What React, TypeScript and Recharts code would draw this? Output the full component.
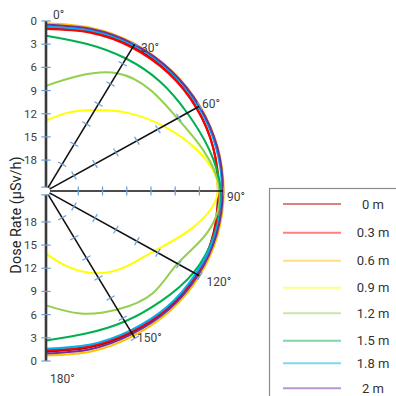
import { RadarChart, Radar, PolarAngleAxis, PolarRadiusAxis, Curve } from 'recharts';

// dose rate (µSv/h) around the source, one value per angle
const angles = [0, 15, 30, 45, 60, 75, 90, 105, 120, 135, 150, 165, 180];
const dose0m = [0.9, 0.65, 0.45, 0.4, 0.45, 0.55, 0.7, 0.55, 0.45, 0.6, 0.85, 1.05, 1.2];
const dose03m = [1.05, 0.8, 0.6, 0.5, 0.5, 0.55, 0.6, 0.5, 0.5, 0.7, 1.0, 1.2, 1.4];
const dose06m = [0.3, 0.15, 0.0, 0.0, 0.0, 0.0, 0.0, 0.0, 0.05, 0.15, 0.35, 0.5, 0.72];
const dose09m = [12.9, 11.5, 9.9, 7.7, 5.2, 2.4, 0.7, 3.3, 6.5, 8.1, 9.7, 11.9, 13.9];
const dose12m = [8.4, 6.6, 4.4, 3.6, 3.2, 1.8, 0.5, 1.3, 3.2, 3.3, 4.3, 5.6, 7.2];
const dose15m = [1.9, 2.3, 2.2, 2.0, 1.8, 1.1, 0.35, 0.4, 0.9, 1.85, 2.5, 2.9, 2.65];
const dose18m = [0.75, 0.5, 0.25, 0.2, 0.2, 0.2, 0.2, 0.3, 0.6, 0.8, 1.15, 1.4, 1.6];
const dose2m = [0.5, 0.3, 0.1, 0.05, 0.05, 0.05, 0.1, 0.15, 0.25, 0.4, 0.65, 0.8, 0.97];

const heights = ['0 m', '0.3 m', '0.6 m', '0.9 m', '1.2 m', '1.5 m', '1.8 m', '2 m'];
const colors = ['#C00000', '#FF0000', '#FFC000', '#FFFF00', '#92D050', '#00B050', '#00B0F0', '#7030A0'];
const doseByHeight = [dose0m, dose03m, dose06m, dose09m, dose12m, dose15m, dose18m, dose2m];

const doseTicks = [0, 3, 6, 9, 12, 15, 18];
const spokeAngles = [0, 30, 60, 90, 120, 150, 180];

const data = angles.map((angle, i) => {
  const row: Record<string, number> = { angle };
  heights.forEach((_, s) => {
    row[`h${s}`] = doseByHeight[s][i];
  });
  return row;
});

const SX = 1.045; // plot is a little wider than tall
const CX = 46;
const CY = 191;
const R = 170;
const DOSE_MAX = 21.5; // value at the centre
const FONT = 'Roboto, "Noto Sans", sans-serif';
const TICK_BLUE = '#6f9fd8';

const labelOffset: Record<number, [number, number]> = {
  0: [7, 5.5],
  30: [2, 14.7],
  60: [-5, 5.5],
  90: [-5, 9.5],
  120: [-0.5, 5.5],
  150: [-2, -3.2],
  180: [4, 13.5],
};

function smoothShape(props: any) {
  return (
    <Curve
      type="natural"
      points={props.points}
      stroke={props.stroke}
      strokeWidth={2}
      fill="none"
    />
  );
}

// little cross marks along a spoke, numbers only on the vertical axis
function spokeTick(polar: number, labelled: boolean) {
  return (props: any) => {
    const { x, y, payload } = props;
    const atCentre = payload.value === DOSE_MAX;
    if (atCentre && !labelled) return <g />;
    const rad = (polar * Math.PI) / 180;
    const px = Math.sin(rad) * 4.5;
    const py = Math.cos(rad) * 4.5;
    return (
      <g>
        <line x1={x - px} y1={y - py} x2={x + px} y2={y + py} stroke={TICK_BLUE} strokeWidth={1.2} />
        {labelled && !atCentre && (
          <g transform={`translate(${x},${y}) scale(${1 / SX},1)`}>
            <text x={-9} y={4} textAnchor="end" fontSize={11.5} fontFamily={FONT} fill="#404040">
              {payload.value}
            </text>
          </g>
        )}
      </g>
    );
  };
}

function angleTick(props: any) {
  const { x, y, payload } = props;
  const [dx, dy] = labelOffset[payload.value] ?? [0, 0];
  return (
    <g transform={`translate(${x},${y}) scale(${1 / SX},1)`}>
      <text x={dx} y={dy} textAnchor="start" fontSize={12} fontFamily={FONT} fill="#404040">
        {`${payload.value}°`}
      </text>
    </g>
  );
}

function DoseLegend() {
  const rows = [204, 232.7, 260.7, 287.7, 313.3, 340.7, 363.3, 388.3];
  return (
    <svg width={396} height={396} style={{ position: 'absolute', left: 0, top: 0 }}>
      <rect x={269.5} y={188.5} width={160} height={240} fill="#fff" stroke="#8c8c8c" strokeWidth={1.2} />
      {heights.map((h, i) => (
        <g key={h}>
          <line x1={283} x2={341} y1={rows[i]} y2={rows[i]} stroke={colors[i]} strokeWidth={2} strokeOpacity={0.5} />
          <text x={373} y={rows[i] + 4.5} textAnchor="middle" fontSize={13} fontFamily={FONT} fill="#333">
            {h}
          </text>
        </g>
      ))}
    </svg>
  );
}

export default function App() {
  const spokes = spokeAngles.map((a) => 90 - a);
  return (
    <div style={{ position: 'absolute', left: 0, top: 0, width: 396, height: 396, overflow: 'hidden', background: '#fff' }}>
      <div
        style={{
          position: 'absolute',
          left: 0,
          top: 0,
          transform: `scaleX(${SX})`,
          transformOrigin: `${CX}px ${CY}px`,
        }}
      >
        <RadarChart
          width={300}
          height={396}
          data={data}
          cx={CX}
          cy={CY}
          innerRadius={0}
          outerRadius={R}
          startAngle={90}
          endAngle={-90}
          margin={{ top: 0, right: 0, bottom: 0, left: 0 }}
        >
          <PolarAngleAxis
            dataKey="angle"
            type="number"
            domain={[0, 180]}
            ticks={spokeAngles}
            axisLine={false}
            tickLine={false}
            tick={angleTick}
          />
          {spokes.map((polar, i) => {
            const vertical = polar === 90 || polar === -90;
            return (
              <PolarRadiusAxis
                key={polar}
                radiusAxisId={i}
                angle={polar}
                type="number"
                domain={[0, DOSE_MAX]}
                allowDataOverflow
                reversed
                ticks={[...doseTicks, DOSE_MAX]}
                stroke={vertical ? '#3a3a3a' : '#111'}
                axisLine={{ stroke: vertical ? '#3a3a3a' : '#111', strokeWidth: vertical ? 2.5 : 1.5 }}
                tick={spokeTick(polar, vertical)}
              />
            );
          })}
          {heights.map((h, s) => (
            <Radar
              key={h}
              name={h}
              dataKey={`h${s}`}
              radiusAxisId={0}
              stroke={colors[s]}
              strokeWidth={2}
              fill="none"
              dot={false}
              shape={smoothShape}
              isAnimationActive={false}
            />
          ))}
        </RadarChart>
      </div>
      <DoseLegend />
      <svg width={40} height={396} style={{ position: 'absolute', left: 0, top: 0 }}>
        <text
          x={0}
          y={0}
          transform="translate(21,215) rotate(-90)"
          textAnchor="middle"
          fontSize={14.5}
          fontFamily={FONT}
          fill="#222"
        >
          Dose Rate (μSv/h)
        </text>
      </svg>
    </div>
  );
}
